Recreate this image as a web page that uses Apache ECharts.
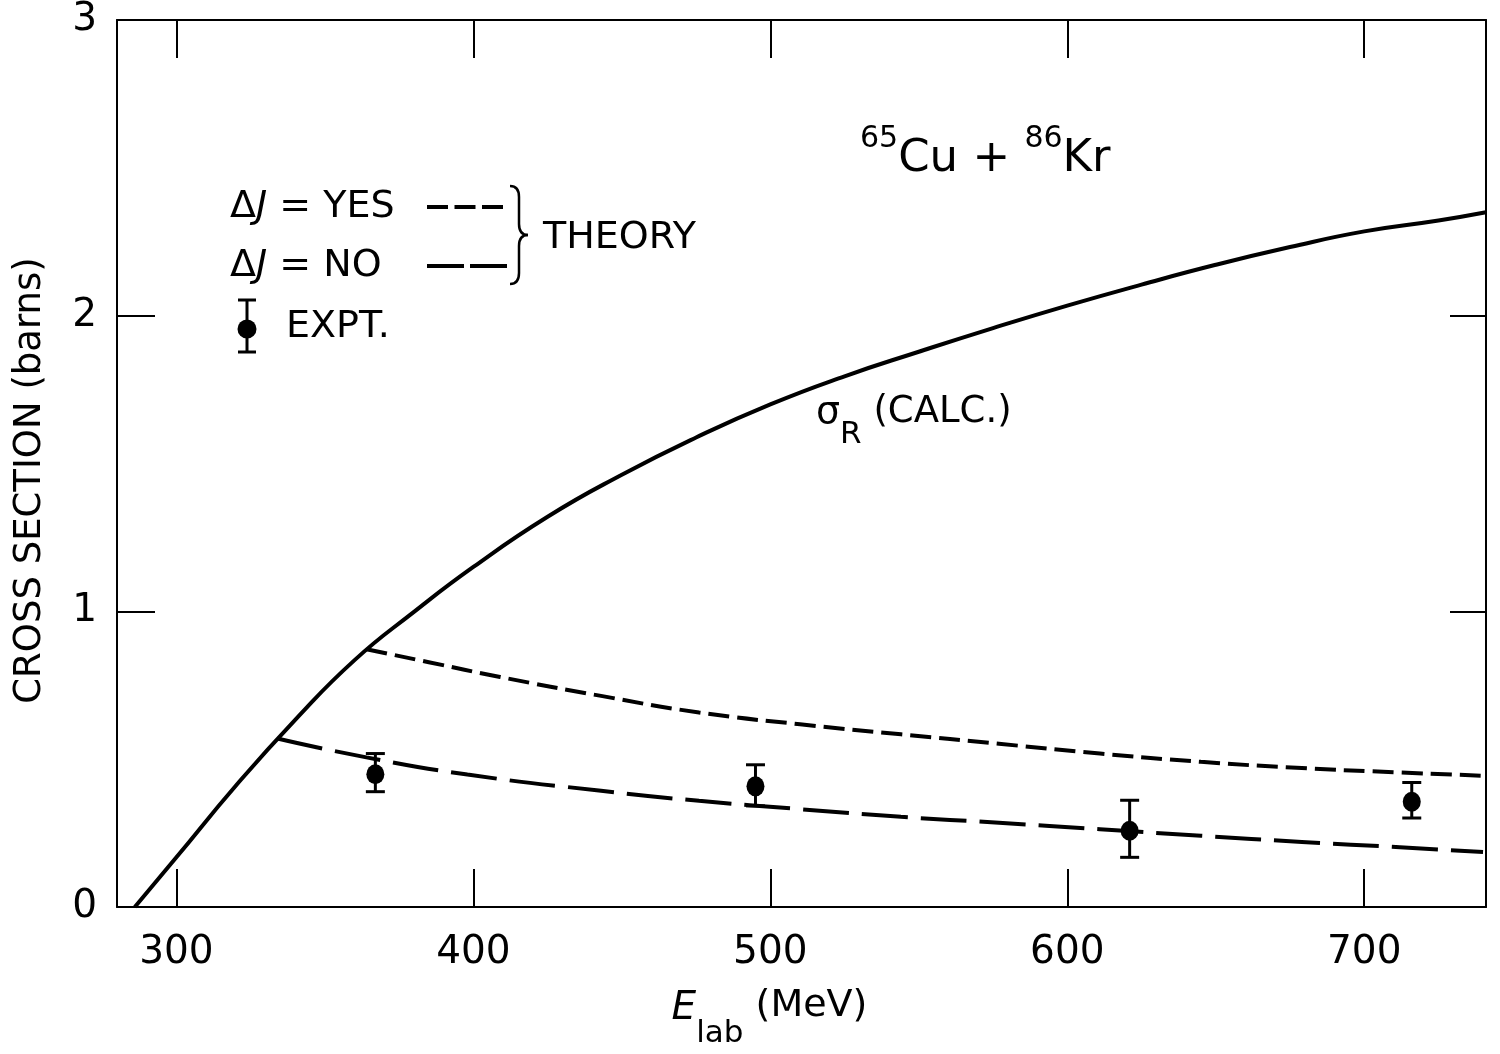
<!DOCTYPE html>
<html>
<head>
<meta charset="utf-8">
<script src="https://cdn.jsdelivr.net/npm/echarts@6/dist/echarts.min.js"></script>
<style>
html,body{margin:0;padding:0;background:#fff;}
#chart{width:1500px;height:1054px;}
</style>
</head>
<body>
<div id="chart"></div>
<script>
// ---- data ----
const xTicks = [300, 400, 500, 600, 700];
const yTicks = [0, 1, 2, 3];

// sigma_R (CALC.) solid curve
const sigmaE = [286, 300, 320, 340, 360, 380, 400, 425, 450, 475, 500, 525, 550, 575, 600, 625, 650, 675, 700, 725, 741];
const sigmaY = [0, 0.168, 0.41, 0.633, 0.835, 0.998, 1.15, 1.32, 1.462, 1.588, 1.70, 1.795, 1.878, 1.958, 2.034, 2.105, 2.172, 2.232, 2.285, 2.322, 2.35];

// Delta J = YES (short dashes)
const yesE = [364, 385, 409, 443, 476, 510, 544, 577, 611, 645, 679, 712, 740];
const yesY = [0.872, 0.828, 0.778, 0.714, 0.658, 0.618, 0.584, 0.552, 0.519, 0.491, 0.470, 0.455, 0.444];

// Delta J = NO (long dashes)
const noE = [334, 364, 398, 443, 476, 510, 544, 577, 611, 645, 679, 712, 740];
const noY = [0.570, 0.506, 0.448, 0.393, 0.359, 0.331, 0.305, 0.285, 0.263, 0.241, 0.220, 0.202, 0.186];

// experimental points
const expE  = [367, 495, 621, 716];
const expY  = [0.449, 0.408, 0.258, 0.356];
const expLo = [0.390, 0.342, 0.168, 0.301];
const expHi = [0.519, 0.481, 0.361, 0.421];

const FONT = 'DejaVu Sans';
const pairs = (a, b) => a.map((v, i) => [v, b[i]]);

const chart = echarts.init(document.getElementById('chart'));

const axisLineStyle = {color: '#000', width: 2};
const stroke = {stroke: '#000', lineWidth: 2.5};

const option = {
  animation: false,
  backgroundColor: '#fff',
  grid: {left: 117, right: 14, top: 20, bottom: 146},
  xAxis: [
    {
      type: 'value', min: 280, max: 741, position: 'bottom',
      axisLine: {show: true, onZero: false, lineStyle: axisLineStyle},
      axisTick: {show: true, inside: true, length: 38, lineStyle: axisLineStyle, customValues: xTicks},
      axisLabel: {show: true, customValues: xTicks, fontSize: 39, fontFamily: FONT, color: '#000', margin: 26},
      splitLine: {show: false},
      name: '{it|E}{sub|lab}{n| (MeV)}',
      nameLocation: 'middle',
      nameGap: 80,
      nameTextStyle: {
        fontFamily: FONT, color: '#000', fontSize: 37,
        padding: [0, 64, 0, 0],
        rich: {
          it: {fontSize: 39, fontStyle: 'italic', fontFamily: FONT, lineHeight: 62, verticalAlign: 'top', padding: [2, 0, 0, 0]},
          sub: {fontSize: 31, fontFamily: FONT, lineHeight: 62, verticalAlign: 'bottom'},
          n: {fontSize: 38, fontFamily: FONT, lineHeight: 62, verticalAlign: 'top'}
        }
      }
    },
    {
      type: 'value', min: 280, max: 741, position: 'top',
      axisLine: {show: true, onZero: false, lineStyle: axisLineStyle},
      axisTick: {show: true, inside: true, length: 38, lineStyle: axisLineStyle, customValues: xTicks},
      axisLabel: {show: false},
      splitLine: {show: false}
    }
  ],
  yAxis: [
    {
      type: 'value', min: 0, max: 3, interval: 1, position: 'left',
      axisLine: {show: true, onZero: false, lineStyle: axisLineStyle},
      axisTick: {show: true, inside: true, length: 38, lineStyle: axisLineStyle},
      axisLabel: {show: true, fontSize: 39, fontFamily: FONT, color: '#000', margin: 20},
      splitLine: {show: false},
      name: 'CROSS SECTION (barns)',
      nameLocation: 'middle',
      nameRotate: 90,
      nameGap: 68,
      nameTextStyle: {fontSize: 37, fontFamily: FONT, color: '#000', padding: [0, 34, 0, 0]}
    },
    {
      type: 'value', min: 0, max: 3, interval: 1, position: 'right',
      axisLine: {show: true, onZero: false, lineStyle: axisLineStyle},
      axisTick: {show: true, inside: true, length: 36, lineStyle: axisLineStyle},
      axisLabel: {show: false},
      splitLine: {show: false}
    }
  ],
  series: [
    {
      name: 'σR (CALC.)', type: 'line', data: pairs(sigmaE, sigmaY),
      symbol: 'none', smooth: 0.5,
      lineStyle: {color: '#000', width: 4}, z: 3
    },
    {
      name: 'ΔJ = YES', type: 'line', data: pairs(yesE, yesY),
      symbol: 'none', smooth: 0.5,
      lineStyle: {color: '#000', width: 4, type: [21, 8]}, z: 2
    },
    {
      name: 'ΔJ = NO', type: 'line', data: pairs(noE, noY),
      symbol: 'none', smooth: 0.5,
      lineStyle: {color: '#000', width: 4, type: [46, 13]}, z: 2
    },
    {
      name: 'EXPT. error', type: 'custom',
      data: expE.map((e, i) => [e, expLo[i], expHi[i]]),
      renderItem: function (params, api) {
        const lo = api.coord([api.value(0), api.value(1)]);
        const hi = api.coord([api.value(0), api.value(2)]);
        const w = 9.5;
        const st = {stroke: '#000', lineWidth: 3};
        return {
          type: 'group',
          children: [
            {type: 'line', shape: {x1: lo[0], y1: lo[1], x2: hi[0], y2: hi[1]}, style: st},
            {type: 'line', shape: {x1: lo[0] - w, y1: lo[1], x2: lo[0] + w, y2: lo[1]}, style: st},
            {type: 'line', shape: {x1: hi[0] - w, y1: hi[1], x2: hi[0] + w, y2: hi[1]}, style: st}
          ]
        };
      },
      z: 4
    },
    {
      name: 'EXPT.', type: 'scatter', data: pairs(expE, expY),
      symbol: 'circle', symbolSize: [18, 20],
      itemStyle: {color: '#000', opacity: 1}, z: 5
    }
  ],
  graphic: [
    // reaction label
    {
      type: 'text', x: 860, y: 124, z: 10,
      style: {
        text: '{sup|65}{big|Cu + }{sup|86}{big|Kr}',
        fill: '#000',
        rich: {
          sup: {fontSize: 30, fontFamily: FONT, fill: '#000', lineHeight: 58, verticalAlign: 'top'},
          big: {fontSize: 45, fontFamily: FONT, fill: '#000', lineHeight: 58, verticalAlign: 'bottom'}
        }
      }
    },
    // sigma_R label
    {
      type: 'text', x: 816, y: 394, z: 10,
      style: {
        text: '{s|σ}{sub|R}{n| (CALC.)}',
        fill: '#000',
        rich: {
          s: {fontSize: 38, fontFamily: FONT, fill: '#000', lineHeight: 56, verticalAlign: 'top'},
          sub: {fontSize: 31, fontFamily: FONT, fill: '#000', lineHeight: 56, verticalAlign: 'bottom'},
          n: {fontSize: 37, fontFamily: FONT, fill: '#000', lineHeight: 56, verticalAlign: 'top'}
        }
      }
    },
    // legend: Delta J = YES
    {
      type: 'text', x: 230, y: 188, z: 10,
      style: {
        text: '{n|Δ}{j|J}{n| = YES}', fill: '#000',
        rich: {
          n: {fontSize: 38, fontFamily: FONT, fill: '#000'},
          j: {fontSize: 38, fontFamily: FONT, fontStyle: 'italic', fill: '#000'}
        }
      }
    },
    {
      type: 'line', z: 10,
      shape: {x1: 427, y1: 207, x2: 503, y2: 207},
      style: {stroke: '#000', lineWidth: 4, lineDash: [21, 6.5]}
    },
    // legend: Delta J = NO
    {
      type: 'text', x: 230, y: 247, z: 10,
      style: {
        text: '{n|Δ}{j|J}{n| = NO}', fill: '#000',
        rich: {
          n: {fontSize: 38, fontFamily: FONT, fill: '#000'},
          j: {fontSize: 38, fontFamily: FONT, fontStyle: 'italic', fill: '#000'}
        }
      }
    },
    {
      type: 'line', z: 10,
      shape: {x1: 427, y1: 266, x2: 507, y2: 266},
      style: {stroke: '#000', lineWidth: 4, lineDash: [37, 6]}
    },
    // brace
    {type: 'bezierCurve', z: 10, shape: {x1: 510, y1: 186, cpx1: 519, cpy1: 186, x2: 519, y2: 197}, style: stroke},
    {type: 'line', z: 10, shape: {x1: 519, y1: 197, x2: 519, y2: 224}, style: stroke},
    {type: 'bezierCurve', z: 10, shape: {x1: 519, y1: 224, cpx1: 519, cpy1: 235, x2: 528, y2: 235}, style: stroke},
    {type: 'bezierCurve', z: 10, shape: {x1: 528, y1: 235, cpx1: 519, cpy1: 235, x2: 519, y2: 246}, style: stroke},
    {type: 'line', z: 10, shape: {x1: 519, y1: 246, x2: 519, y2: 273}, style: stroke},
    {type: 'bezierCurve', z: 10, shape: {x1: 519, y1: 273, cpx1: 519, cpy1: 284, x2: 510, y2: 284}, style: stroke},
    {
      type: 'text', x: 543, y: 219, z: 10,
      style: {text: 'THEORY', fontSize: 38, fontFamily: FONT, fill: '#000'}
    },
    // legend: EXPT.
    {type: 'line', z: 10, shape: {x1: 247, y1: 300, x2: 247, y2: 352}, style: {stroke: '#000', lineWidth: 3}},
    {type: 'line', z: 10, shape: {x1: 238, y1: 300, x2: 256, y2: 300}, style: {stroke: '#000', lineWidth: 3}},
    {type: 'line', z: 10, shape: {x1: 238, y1: 352, x2: 256, y2: 352}, style: {stroke: '#000', lineWidth: 3}},
    {type: 'circle', z: 10, shape: {cx: 247, cy: 329, r: 9.5}, style: {fill: '#000'}},
    {
      type: 'text', x: 286, y: 308, z: 10,
      style: {text: 'EXPT.', fontSize: 38, fontFamily: FONT, fill: '#000'}
    }
  ]
};

chart.setOption(option);
</script>
</body>
</html>
